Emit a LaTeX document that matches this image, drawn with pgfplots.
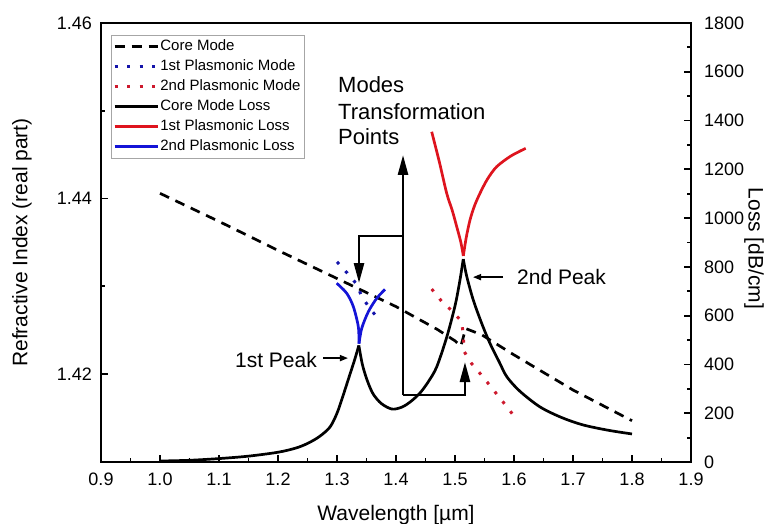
\documentclass[border=0pt]{standalone}
\usepackage{fontspec}
\setmainfont{Liberation Sans}
\usepackage{pgfplots}
\pgfplotsset{compat=1.18}
\usetikzlibrary{arrows.meta}
\definecolor{mblue}{RGB}{20,20,215}
\definecolor{mred}{RGB}{222,20,30}
\definecolor{dblue}{RGB}{20,20,170}
\definecolor{dred}{RGB}{205,25,45}
\newcommand{\tickfont}{\fontsize{18bp}{20bp}\selectfont}
\newcommand{\labfont}{\fontsize{21bp}{24bp}\selectfont}
\pgfplotsset{
  myaxis/.style={
    scale only axis, width=590bp, height=439bp,
    at={(101bp,62bp)}, anchor=south west,
    xmin=0.9, xmax=1.9,
    axis line style={line width=2bp},
    every tick/.style={black, line width=1.8bp},
    major tick length=7bp, minor tick length=4bp,
    tick label style={font=\tickfont},
    label style={font=\labfont},
    /pgf/number format/assume math mode=true,
  },
  dotline/.style={line width=3bp, dash pattern=on 3bp off 9.5bp},
  dashline/.style={black, line width=2.7bp, dash pattern=on 10bp off 7bp},
  lossline/.style={line width=2.7bp, smooth, tension=0.5},
}
\begin{document}
\begin{tikzpicture}
\useasboundingbox (0,0) rectangle (768bp,524bp);

% refractive index (left axis)
\begin{axis}[myaxis,
  ymin=1.41, ymax=1.46,
  xtick={0.9,1.0,1.1,1.2,1.3,1.4,1.5,1.6,1.7,1.8,1.9},
  minor xtick={0.95,1.05,1.15,1.25,1.35,1.45,1.55,1.65,1.75,1.85},
  ytick={1.42,1.44,1.46}, minor ytick={1.43,1.45},
  xtick pos=left, ytick pos=left,
  xticklabel style={anchor=north, inner sep=0pt, yshift=-11bp,
    /pgf/number format/.cd, fixed, fixed zerofill, precision=1},
  yticklabel style={anchor=east, inner sep=0pt, xshift=-9bp,
    /pgf/number format/.cd, fixed, fixed zerofill, precision=2},
  xlabel={Wavelength [µm]},
  xlabel style={at={([yshift=-58bp]axis description cs:0.5,0)}, anchor=base},
  ylabel={Refractive Index (real part)},
  ylabel style={at={([xshift=-79bp]axis description cs:0,0.5)}, anchor=center},
]
% Core Mode
\addplot[dashline] coordinates {
(1.00,1.4406) (1.10,1.4374) (1.20,1.4341) (1.30,1.4309) (1.40,1.4277)
(1.47,1.4251) (1.50,1.4238) (1.510,1.4232) (1.514,1.4242) (1.518,1.4252)
(1.545,1.4245) (1.60,1.4222) (1.70,1.4182) (1.80,1.4147)};
% 1st Plasmonic Mode
\addplot[dblue, dotline] coordinates {
(1.300,1.4328) (1.319,1.4314) (1.334,1.4302) (1.342,1.4288) (1.357,1.4274) (1.371,1.4262)};
% 2nd Plasmonic Mode
\addplot[dred, dotline] coordinates {
(1.4605,1.4297) (1.4774,1.4283) (1.495,1.4272) (1.5113,1.4260) (1.514,1.4245)
(1.5153,1.4226) (1.5283,1.4212) (1.5435,1.4200) (1.5593,1.4187) (1.5746,1.4174)
(1.5903,1.4161) (1.6056,1.4147)};
\end{axis}

% loss (right axis)
\begin{axis}[myaxis,
  ymin=0, ymax=1800,
  axis x line=none, axis y line*=right,
  ytick={0,200,...,1800}, minor ytick={100,300,...,1700},
  ytick pos=right, yticklabel pos=right,
  yticklabel style={anchor=west, inner sep=0pt, xshift=13bp,
    /pgf/number format/.cd, 1000 sep={}},
  ylabel={Loss [dB/cm]},
  ylabel style={at={([xshift=63bp,yshift=-6bp]axis description cs:1,0.5)}, anchor=center, rotate=180},
  clip=false,
  legend cell align=left,
  legend image code/.code={\draw[line width=2.7bp,#1] (0bp,0bp) -- (43bp,0bp);},
  legend style={at={(axis description cs:0,1)}, anchor=north west,
    xshift=10bp, yshift=-12bp, draw=gray!70, fill=white,
    font=\fontsize{15bp}{18bp}\selectfont, inner xsep=2bp, inner ysep=1.5bp,
    nodes={inner xsep=1.5bp, inner ysep=2.5bp, text height=11.5bp, text depth=3.5bp}},
]
\addlegendimage{dashline}
\addlegendentry{Core Mode}
\addlegendimage{dblue, dotline}
\addlegendentry{1st Plasmonic Mode}
\addlegendimage{dred, dotline}
\addlegendentry{2nd Plasmonic Mode}
\addlegendimage{black}
\addlegendentry{Core Mode Loss}
\addlegendimage{mred}
\addlegendentry{1st Plasmonic Loss}
\addlegendimage{mblue}
\addlegendentry{2nd Plasmonic Loss}

% Core Mode Loss, in three segments between the cusps
\addplot[black, lossline, forget plot] coordinates {
(1.00,4) (1.05,7) (1.10,14) (1.15,24) (1.20,40) (1.23,57) (1.25,76) (1.27,104)
(1.288,143) (1.30,200) (1.31,270) (1.32,345) (1.33,420) (1.337,478)};
\addplot[black, lossline, forget plot] coordinates {
(1.337,478) (1.343,400) (1.351,336) (1.361,280) (1.375,240) (1.393,217) (1.41,225)
(1.425,248) (1.4407,283) (1.455,330) (1.469,390) (1.486,512) (1.50,640)
(1.508,740) (1.514,832)};
\addplot[black, lossline, forget plot] coordinates {
(1.514,832) (1.52,760) (1.531,664) (1.545,570) (1.559,488)
(1.575,410) (1.588,349) (1.61,290) (1.644,226) (1.68,183) (1.717,152)
(1.76,130) (1.80,115)};
% 1st Plasmonic Loss
\addplot[mred, lossline, forget plot] coordinates {
(1.4605,1354) (1.4735,1230) (1.4859,1102) (1.4955,1030) (1.5029,965) (1.5100,900)
(1.5141,845)};
\addplot[mred, lossline, forget plot] coordinates {
(1.5141,845) (1.519,920) (1.5254,992) (1.5330,1050) (1.5424,1102) (1.555,1160)
(1.5707,1211) (1.595,1255) (1.6198,1286)};
% 2nd Plasmonic Loss
\addplot[mblue, lossline, forget plot] coordinates {
(1.2995,733) (1.3164,692) (1.3277,637) (1.3361,555) (1.3373,485)};
\addplot[mblue, lossline, forget plot] coordinates {
(1.3373,485) (1.3419,548) (1.3531,616) (1.3673,671) (1.3814,708)};

% annotations
\tikzset{bigarrow/.style={line width=2.6bp, line join=miter,
  -{Triangle[length=20bp,width=10bp]}}}
\draw[bigarrow] (axis cs:1.4119,274.7) -- (axis cs:1.4119,1258.8);
\draw[bigarrow] (axis cs:1.4119,926.6) -- (axis cs:1.3373,926.6) -- (axis cs:1.3373,733.9);
\draw[bigarrow] (axis cs:1.4119,274.7) -- (axis cs:1.5169,274.7) -- (axis cs:1.5169,410);
\node[anchor=base west, inner sep=0pt, font=\fontsize{22bp}{26bp}\selectfont] at (axis cs:1.3017,1517) {Modes};
\node[anchor=base west, inner sep=0pt, font=\fontsize{22bp}{26bp}\selectfont] at (axis cs:1.3017,1406) {Transformation};
\node[anchor=base west, inner sep=0pt, font=\fontsize{22bp}{26bp}\selectfont] at (axis cs:1.3017,1300) {Points};
\node[anchor=east, inner sep=0pt, font=\labfont] at (axis cs:1.2661,418) {1st Peak};
\draw[line width=1.6bp, -{Triangle[length=8bp,width=6bp]}] (axis cs:1.2763,426) -- (axis cs:1.3186,426);
\node[anchor=west, inner sep=0pt, font=\labfont] at (axis cs:1.6051,760) {2nd Peak};
\draw[line width=1.6bp, -{Triangle[length=8bp,width=6bp]}] (axis cs:1.5814,758) -- (axis cs:1.5305,758);
\end{axis}
\end{tikzpicture}
\end{document}
